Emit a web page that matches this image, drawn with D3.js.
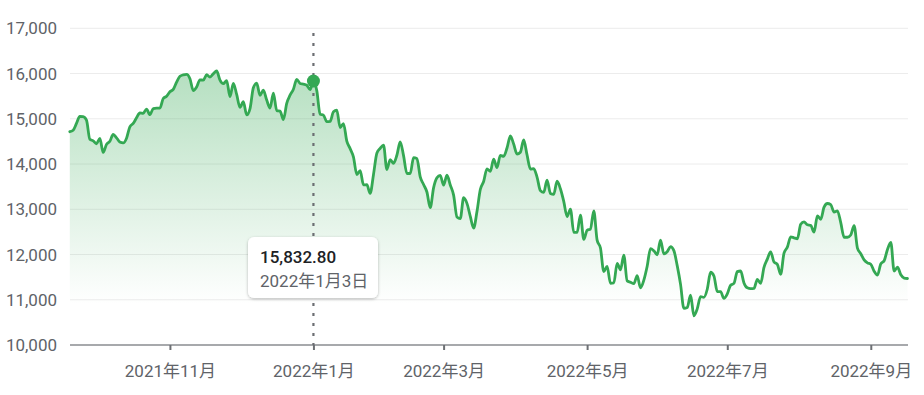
<!DOCTYPE html>
<html>
<head>
<meta charset="utf-8">
<script src="https://cdn.jsdelivr.net/npm/d3@7"></script>
<style>
  html, body { margin: 0; padding: 0; background: #fff; }
  svg { display: block; font-family: Roboto, "Noto Sans CJK SC", "Noto Sans CJK JP", sans-serif; }
</style>
</head>
<body>
<svg id="chart" width="924" height="395"></svg>
<script>
// Daily closes, one per trading day (2021-09-20 .. 2022-09-19)
const closes = [
  14713.90, 14746.40, 14896.85, 15052.24, 15047.70, 14969.97, 14546.68, 14512.44, 14448.58,
  14566.70, 14255.49, 14433.83, 14501.91, 14654.02, 14579.54, 14486.20, 14465.92, 14571.64, 14823.43,
  14897.34, 15021.81, 15129.09, 15121.68, 15215.70, 15090.20, 15226.71, 15235.71, 15235.84, 15448.12, 15498.39,
  15595.92, 15649.60, 15811.58, 15940.31, 15971.59, 15982.36, 15886.54, 15622.71, 15704.28, 15860.96,
  15853.85, 15973.86, 15921.57, 15993.71, 16057.44, 15854.76, 15775.14, 15845.23, 15491.66, 15782.83, 15537.69,
  15254.05, 15381.32, 15085.47, 15225.15, 15686.92, 15786.99, 15517.37, 15630.60, 15413.28, 15237.64, 15565.58,
  15180.43, 15169.68, 14980.94, 15341.09, 15521.89, 15653.37, 15871.26, 15781.72, 15766.22, 15741.56, 15644.97,
  15832.80, 15622.72, 15100.17, 15080.86, 14935.90, 14942.83, 15153.45, 15188.39, 14806.81, 14893.75,
  14506.90, 14340.26, 14154.02, 13768.92, 13855.13, 13539.29, 13542.12, 13352.78, 13770.57, 14239.88,
  14346.00, 14417.55, 13878.82, 14098.01, 14015.67, 14194.46, 14490.37, 14185.64, 13791.15, 13790.92,
  14139.76, 14124.09, 13716.72, 13548.07, 13381.52, 13037.49, 13473.59, 13694.62, 13751.40,
  13532.46, 13752.02, 13537.94, 13313.44, 12830.96, 12795.55, 13255.55, 13129.96, 12843.81, 12581.22, 12948.62,
  13436.55, 13614.78, 13893.84, 13838.46, 14108.82, 13922.60, 14191.84, 14169.30, 14354.90, 14619.64, 14442.27, 14220.52,
  14261.50, 14532.55, 14204.17, 13888.82, 13897.30, 13711.00, 13411.96, 13371.57, 13643.59, 13351.08,
  13332.36, 13619.66, 13453.07, 13174.65, 12839.29, 13004.85, 12490.74, 12488.93, 12871.53, 12334.64,
  12536.02, 12563.76, 12964.86, 12317.69, 12144.66, 11623.25, 11737.67, 11364.24, 11370.96, 11805.00, 11662.79,
  11984.52, 11418.15, 11388.50, 11354.62, 11535.27, 11264.45, 11434.74, 11740.65, 12131.13, 12081.39,
  11994.46, 12316.90, 12012.73, 12061.37, 12175.23, 12086.27, 11754.23, 11340.02, 10809.23, 10828.35, 11099.15,
  10646.10, 10798.35, 11069.30, 11053.08, 11232.19, 11607.62, 11524.55, 11181.54, 11177.89, 11028.74,
  11127.85, 11322.24, 11361.85, 11621.35, 11635.31, 11372.60, 11264.73, 11247.58, 11251.19, 11452.42,
  11360.05, 11713.15, 11897.65, 12059.61, 11834.11, 11782.67, 11562.57, 12032.42, 12162.59, 12390.69,
  12368.98, 12348.76, 12668.16, 12720.58, 12657.55, 12644.46, 12493.93, 12854.80, 12779.91, 13047.19, 13128.05, 13102.55,
  12938.12, 12965.34, 12705.22, 12381.57, 12381.30, 12431.53, 12639.27, 12141.71, 12017.67, 11883.14, 11816.20,
  11785.13, 11630.86, 11544.91, 11791.90, 11862.13, 12112.31, 12266.41, 11633.57, 11719.68, 11552.36, 11480.00, 11470.00
];

// x-axis ticks: trading-day index of first trading day of month, with labels
const xTickIndex = [30, 73, 112, 155, 197, 240];
const xTickLabels = ["2021年11月", "2022年1月", "2022年3月", "2022年5月", "2022年7月", "2022年9月"];

// y-axis ticks
const yTicks = [10000, 11000, 12000, 13000, 14000, 15000, 16000, 17000];

// highlighted point
const focusIndex = 73;
const focusValue = "15,832.80";
const focusDate = "2022年1月3日";

const svg = d3.select("#chart");
const x = d3.scaleLinear().domain([0, closes.length - 1]).range([69.8, 907.5]);
const y = d3.scaleLinear().domain([10000, 17000]).range([345, 28.3]);

const green = "#34a853";

// gradient
const defs = svg.append("defs");
const grad = defs.append("linearGradient").attr("id", "areaGrad")
  .attr("gradientUnits", "userSpaceOnUse")
  .attr("x1", 0).attr("x2", 0).attr("y1", y(16000)).attr("y2", y(10900));
grad.append("stop").attr("offset", 0).attr("stop-color", green).attr("stop-opacity", 0.36);
grad.append("stop").attr("offset", 1).attr("stop-color", green).attr("stop-opacity", 0);

const shadow = defs.append("filter").attr("id", "shadow")
  .attr("x", "-20%").attr("y", "-30%").attr("width", "140%").attr("height", "160%");
shadow.append("feDropShadow").attr("dx", 0).attr("dy", 1).attr("stdDeviation", 1.6)
  .attr("flood-color", "#000").attr("flood-opacity", 0.28);

// gridlines
svg.append("g").selectAll("line").data(yTicks.slice(1)).join("line")
  .attr("x1", 70).attr("x2", 908)
  .attr("y1", d => y(d)).attr("y2", d => y(d))
  .attr("stroke", "#ececec").attr("stroke-width", 1);

// y labels
svg.append("g").selectAll("text").data(yTicks).join("text")
  .attr("x", 57).attr("y", d => y(d)).attr("dy", "0.36em")
  .attr("text-anchor", "end")
  .attr("font-size", 17).attr("fill", "#606368")
  .text(d => d3.format(",")(d));

// area + line
const area = d3.area().x((d, i) => x(i)).y0(y(10000)).y1(d => y(d)).curve(d3.curveMonotoneX);
const line = d3.line().x((d, i) => x(i)).y(d => y(d)).curve(d3.curveMonotoneX);

svg.append("path").datum(closes).attr("d", area).attr("fill", "url(#areaGrad)");

// bottom axis
const xAxis = d3.axisBottom(x).tickValues(xTickIndex).tickFormat((d, i) => xTickLabels[i])
  .tickSize(5).tickSizeOuter(0);
const gx = svg.append("g").attr("transform", `translate(0,${y(10000)})`).call(xAxis);
gx.select(".domain").attr("stroke", "#8a8d91").attr("stroke-width", 1.5)
  .attr("d", `M70,0H908`);
gx.selectAll(".tick line").attr("stroke", "#6d7074").attr("stroke-width", 2);
gx.selectAll(".tick text").attr("font-size", 17).attr("fill", "#606368")
  .attr("font-family", "Roboto, 'Noto Sans CJK SC', sans-serif")
  .attr("y", 0).attr("dy", 0).attr("transform", "translate(0,32)");

// dotted focus line
svg.append("line")
  .attr("x1", x(focusIndex)).attr("x2", x(focusIndex))
  .attr("y1", 33).attr("y2", 345)
  .attr("stroke", "#6b6e72").attr("stroke-width", 2.2)
  .attr("stroke-dasharray", "3,7");

svg.append("path").datum(closes).attr("d", line)
  .attr("fill", "none").attr("stroke", green).attr("stroke-width", 2.8)
  .attr("stroke-linejoin", "round").attr("stroke-linecap", "round");

// focus marker
svg.append("circle").attr("cx", x(focusIndex)).attr("cy", y(closes[focusIndex]))
  .attr("r", 6.5).attr("fill", green);

// tooltip
const tip = svg.append("g");
tip.append("rect").attr("x", 248).attr("y", 237).attr("width", 130).attr("height", 61)
  .attr("rx", 6).attr("fill", "#fff").attr("filter", "url(#shadow)");
tip.append("text").attr("x", 260).attr("y", 263).attr("font-size", 17).attr("font-weight", 500)
  .attr("fill", "#202124").text(focusValue);
tip.append("text").attr("x", 260).attr("y", 287).attr("font-size", 17)
  .attr("fill", "#606368").text(focusDate);
</script>
</body>
</html>
